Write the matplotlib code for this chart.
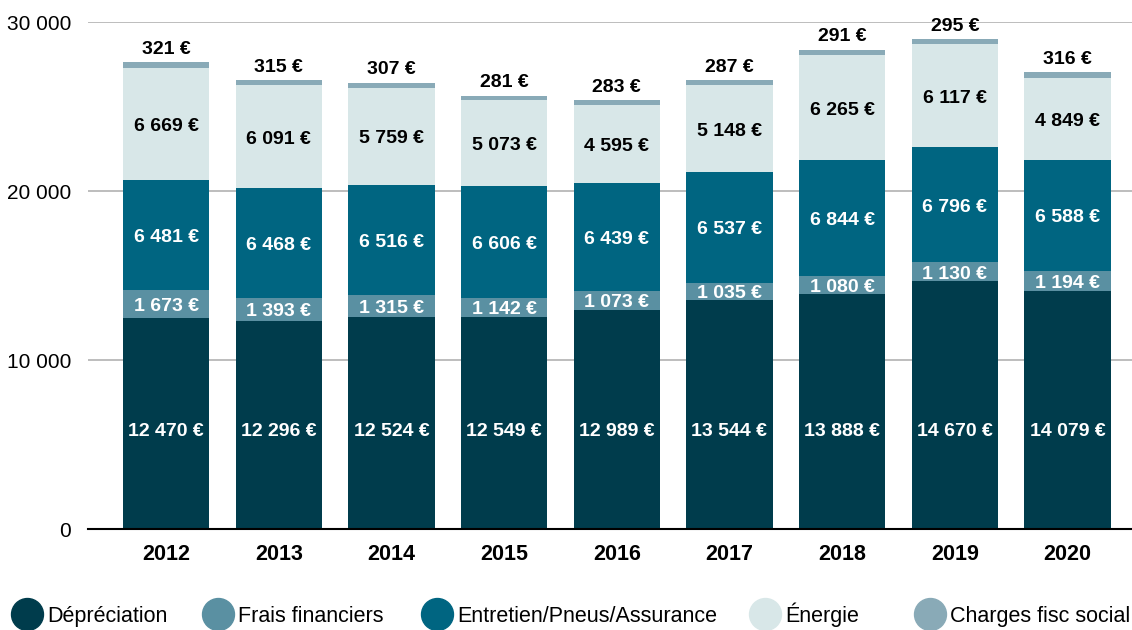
import matplotlib
matplotlib.use("Agg")
import matplotlib.pyplot as plt
from matplotlib.lines import Line2D
import numpy as np

plt.rcParams['font.family'] = ['Liberation Sans', 'DejaVu Sans']

annees = ['2012', '2013', '2014', '2015', '2016', '2017', '2018', '2019', '2020']
depreciation = [12470, 12296, 12524, 12549, 12989, 13544, 13888, 14670, 14079]
frais_financiers = [1673, 1393, 1315, 1142, 1073, 1035, 1080, 1130, 1194]
entretien = [6481, 6468, 6516, 6606, 6439, 6537, 6844, 6796, 6588]
energie = [6669, 6091, 5759, 5073, 4595, 5148, 6265, 6117, 4849]
charges = [321, 315, 307, 281, 283, 287, 291, 295, 316]

series = [
    ('Dépréciation', depreciation, '#003c4c', 'white'),
    ('Frais financiers', frais_financiers, '#5a90a2', 'white'),
    ('Entretien/Pneus/Assurance', entretien, '#006581', 'white'),
    ('Énergie', energie, '#d8e7e8', 'black'),
    ('Charges fisc social', charges, '#89aab7', 'black'),
]

def fmt(v):
    return f"{v:,}".replace(",", " ") + " €"

fig = plt.figure(figsize=(11.32, 6.3), dpi=100)
ax = fig.add_axes([0.0777, 0.1603, 0.93, 0.8047])

x = np.arange(len(annees))
bas = np.zeros(len(annees))
largeur = 0.765

for nom, vals, couleur, txt in series:
    vals = np.array(vals)
    ax.bar(x, vals, bottom=bas, width=largeur, color=couleur, zorder=3)
    for i, v in enumerate(vals):
        if nom == 'Charges fisc social':
            ax.text(x[i], bas[i] + v + 250, fmt(v), ha='center', va='bottom',
                    fontsize=14, fontweight='bold', color=txt, clip_on=False)
        elif nom == 'Dépréciation':
            # les libellés du bas sont tous alignés sur la même hauteur
            ax.text(x[i], 5750, fmt(v), ha='center', va='center',
                    fontsize=14, fontweight='bold', color=txt)
        else:
            ax.text(x[i], bas[i] + v / 2 - 150, fmt(v), ha='center', va='center',
                    fontsize=14, fontweight='bold', color=txt)
    bas = bas + vals

ax.set_xlim(-0.694, 8.65)
ax.set_ylim(0, 30000)
ax.set_yticks([0, 10000, 20000, 30000])
ax.set_yticklabels(['0', '10 000', '20 000', '30 000'], fontsize=15)
ax.set_xticks(x)
ax.set_xticklabels(annees, fontsize=15.5, fontweight='bold')
ax.tick_params(axis='y', length=0, pad=12)
ax.tick_params(axis='x', length=0, pad=11)

for s in ['top', 'right', 'left']:
    ax.spines[s].set_visible(False)
ax.spines['bottom'].set_color('black')
ax.spines['bottom'].set_linewidth(1.5)
ax.spines['bottom'].set_zorder(4)
for yv in [10000, 20000, 30000]:
    ax.axhline(yv, color='#b8b8b8', linewidth=1.3, zorder=1)

# légende placée à la main (pastilles rondes)
pos_legende = [27, 218, 437, 765, 930]
y_leg = 1 - 614 / 630
for (nom, _, couleur, _), px in zip(series, pos_legende):
    fig.add_artist(Line2D([px / 1132], [y_leg], marker='o', markersize=23,
                          markerfacecolor=couleur, markeredgecolor=couleur,
                          linestyle='', transform=fig.transFigure))
    fig.text((px + 20) / 1132, 1 - 622 / 630, nom, fontsize=15.5,
             va='baseline', ha='left')

fig.savefig('out.png', dpi=100)
